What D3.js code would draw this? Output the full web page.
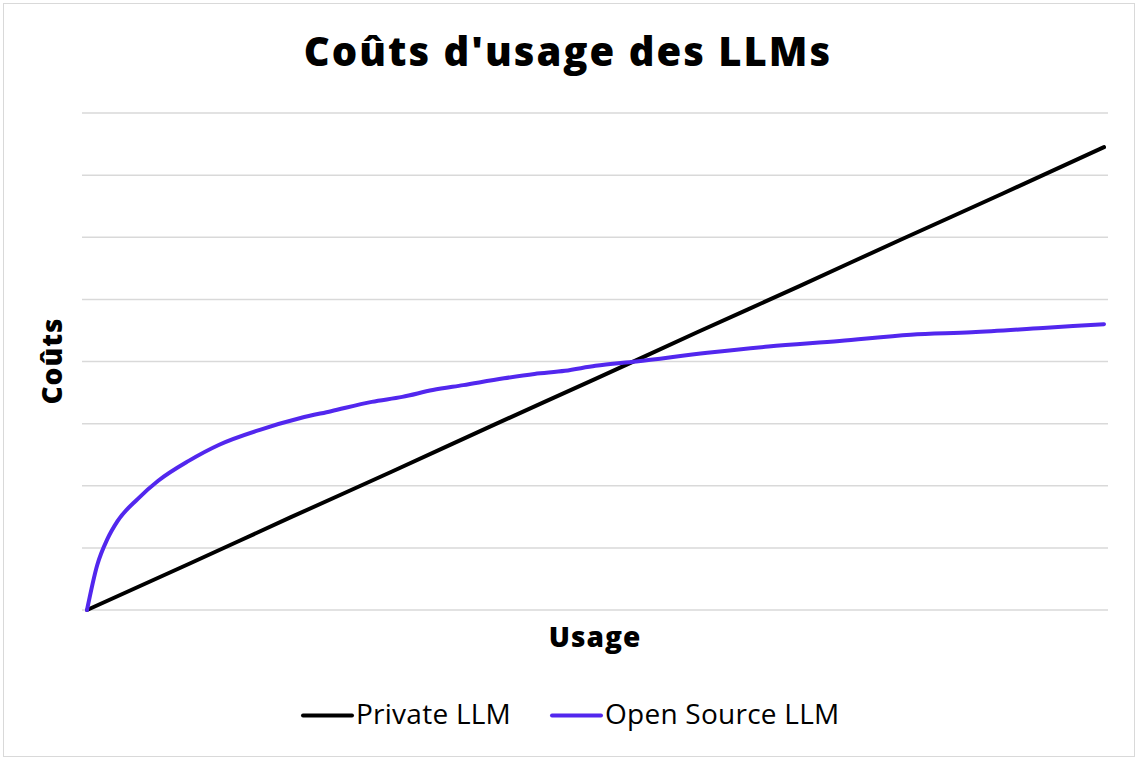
<!DOCTYPE html>
<html>
<head>
<meta charset="utf-8">
<script src="https://cdn.jsdelivr.net/npm/d3@7.9.0/dist/d3.min.js"></script>
<style>
  html, body { margin: 0; padding: 0; background: #fff; }
  svg { display: block; font-family: "Open Sans", sans-serif; }
</style>
</head>
<body>
<svg id="chart"></svg>
<script>
// Usage (x) values
const privateUsage = [0, 10, 20, 30, 40, 50, 60, 70, 80, 90, 100];
const privateCost  = [0, 0.74, 1.49, 2.23, 2.98, 3.72, 4.47, 5.21, 5.96, 6.70, 7.45];

const openUsage = [0, 1, 2, 3, 5, 7, 10, 13, 17, 21, 24, 28, 31, 34, 37, 41, 44, 47, 50, 54, 61, 67, 74, 81, 87, 94, 100];
const openCost  = [0, 0.72, 1.14, 1.43, 1.79, 2.08, 2.40, 2.66, 2.90, 3.09, 3.20, 3.35, 3.43, 3.54, 3.62, 3.73, 3.80, 3.85, 3.93, 4.00, 4.14, 4.24, 4.33, 4.43, 4.47, 4.54, 4.60];

const gridValues = [0, 1, 2, 3, 4, 5, 6, 7, 8];

const seriesNames = ["Private LLM", "Open Source LLM"];
const seriesColors = ["#000000", "#5227EE"];

const W = 1138, H = 760;
const svg = d3.select("#chart").attr("width", W).attr("height", H);

// Chart frame
svg.append("rect")
    .attr("x", 3.5).attr("y", 3.5)
    .attr("width", W - 7).attr("height", H - 7)
    .attr("fill", "#fff")
    .attr("stroke", "#d9d9d9")
    .attr("stroke-width", 1);

// Scales
const x = d3.scaleLinear().domain([0, 100]).range([87, 1104]);
const y = d3.scaleLinear().domain([0, 8]).range([610, 113]);

// Gridlines
svg.append("g")
    .selectAll("line")
    .data(gridValues)
    .enter()
    .append("line")
    .attr("x1", 82)
    .attr("x2", 1108)
    .attr("y1", d => y(d))
    .attr("y2", d => y(d))
    .attr("stroke", "#d9d9d9")
    .attr("stroke-width", 1.5);

// Lines
const line = d3.line()
    .x(d => x(d[0]))
    .y(d => y(d[1]))
    .curve(d3.curveMonotoneX);

const series = [
    d3.zip(privateUsage, privateCost),
    d3.zip(openUsage, openCost)
];

svg.append("g")
    .selectAll("path")
    .data(series)
    .enter()
    .append("path")
    .attr("d", line)
    .attr("fill", "none")
    .attr("stroke", (d, i) => seriesColors[i])
    .attr("stroke-width", 4)
    .attr("stroke-linecap", "round")
    .attr("stroke-linejoin", "round");

// Title
svg.append("text")
    .attr("x", 568)
    .attr("y", 66)
    .attr("text-anchor", "middle")
    .style("font-size", "40px")
    .style("font-weight", "800")
    .style("letter-spacing", "2px")
    .text("Coûts d'usage des LLMs");

// Y-axis label
svg.append("text")
    .attr("transform", "translate(62,361) rotate(-90)")
    .attr("text-anchor", "middle")
    .style("font-size", "28px")
    .style("font-weight", "800")
    .style("letter-spacing", "1px")
    .text("Coûts");

// X-axis label
svg.append("text")
    .attr("x", 595)
    .attr("y", 647)
    .attr("text-anchor", "middle")
    .style("font-size", "28px")
    .style("font-weight", "800")
    .style("letter-spacing", "1px")
    .text("Usage");

// Legend
const legendX = [302, 551];
const legend = svg.append("g");
const items = legend.selectAll("g")
    .data(seriesNames)
    .enter()
    .append("g")
    .attr("transform", (d, i) => `translate(${legendX[i]},715.5)`);

items.append("line")
    .attr("x1", 1).attr("x2", 50)
    .attr("y1", 0).attr("y2", 0)
    .attr("stroke", (d, i) => seriesColors[i])
    .attr("stroke-width", 4)
    .attr("stroke-linecap", "round");

items.append("text")
    .attr("x", 54)
    .attr("y", 8)
    .style("font-size", "28px")
    .style("letter-spacing", "0.25px")
    .text(d => d);
</script>
</body>
</html>
